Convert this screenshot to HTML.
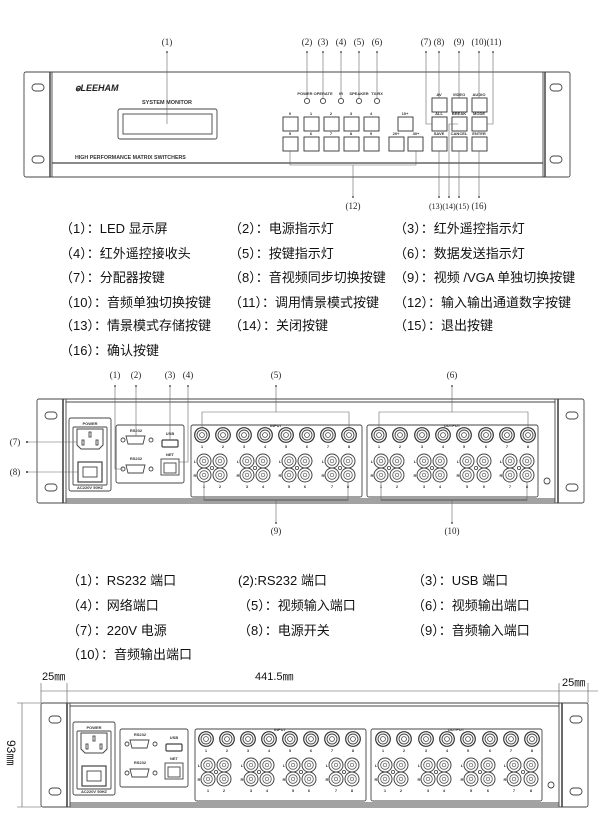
<!DOCTYPE html>
<html><head><meta charset="utf-8"><style>
html,body{margin:0;padding:0;background:#fff;}
svg{display:block;}
.t{font-family:"Liberation Sans","Noto Sans CJK SC",sans-serif;}
.cn{font-family:"Liberation Sans","Noto Sans CJK SC",sans-serif;font-size:13px;fill:#111;}
.lb{font-family:"Liberation Serif","Noto Sans CJK SC",serif;font-size:9px;fill:#222;}
.tiny{font-family:"Liberation Sans",sans-serif;font-size:4px;font-weight:bold;fill:#333;}
</style></head><body>
<svg width="600" height="825" viewBox="0 0 600 825" xmlns="http://www.w3.org/2000/svg">
<defs>
<g id="bnc"><circle r="7.3" fill="#fff" stroke="#333" stroke-width="1.2"/><circle r="5" fill="none" stroke="#444" stroke-width="0.9"/><circle r="2.4" fill="none" stroke="#444" stroke-width="0.8"/></g>
<g id="rca"><circle r="7" fill="#fff" stroke="#444" stroke-width="1"/><circle r="4.3" fill="none" stroke="#555" stroke-width="0.8"/><circle r="1.8" fill="none" stroke="#555" stroke-width="0.7"/></g>
<g id="back" fill="none" stroke="#444" stroke-width="0.9">
 <rect x="37" y="399" width="547" height="104" rx="2"/>
 <line x1="63" y1="399" x2="63" y2="503" stroke-width="1.6"/><line x1="66" y1="399" x2="66" y2="503"/>
 <line x1="555" y1="399" x2="555" y2="503"/><line x1="558" y1="399" x2="558" y2="503" stroke-width="1.6"/>
 <line x1="66" y1="402" x2="555" y2="402"/>
 <line x1="66" y1="499" x2="555" y2="499"/><line x1="66" y1="501" x2="555" y2="501"/>
 <rect x="45" y="412" width="12" height="7" rx="3.5"/><rect x="45" y="484" width="12" height="7" rx="3.5"/>
 <rect x="566" y="412" width="12" height="7" rx="3.5"/><rect x="566" y="484" width="12" height="7" rx="3.5"/>
 <rect x="69" y="418" width="42" height="73" rx="2"/>
 <rect x="73" y="427" width="34" height="58" rx="1"/>
 <path d="M77 429 H103 V445 L99 449 H81 L77 445 Z" stroke-width="1"/>
 <rect x="89" y="432" width="2" height="5"/><rect x="82" y="440" width="2" height="5"/><rect x="96" y="440" width="2" height="5"/>
 <rect x="78" y="462" width="24" height="20" stroke-width="1.2"/><rect x="83" y="467" width="14" height="10"/>
 <rect x="116" y="425" width="68" height="58" rx="2"/>
 <path d="M126 436 H145 L143 444 H128 Z"/><circle cx="123" cy="440" r="2"/><circle cx="151" cy="440" r="2"/>
 <path d="M126 465 H145 L143 473 H128 Z"/><circle cx="123" cy="469" r="2"/><circle cx="151" cy="469" r="2"/>
 <rect x="162" y="440" width="16" height="7" rx="1" stroke-width="1.2"/>
 <rect x="161" y="459" width="18" height="16"/><rect x="164" y="463" width="12" height="10"/>
 <rect x="191" y="425" width="171" height="72" rx="2"/>
 <rect x="367" y="425" width="171" height="72" rx="2"/>
 <circle cx="547" cy="481" r="3"/>
</g>
<g id="backfill">
 <g class="tiny"><text x="90" y="425" text-anchor="middle">POWER</text><text x="90" y="489" text-anchor="middle">AC220V 50HZ</text>
 <text x="136" y="432" text-anchor="middle">RS232</text><text x="136" y="460" text-anchor="middle">RS232</text>
 <text x="170" y="435" text-anchor="middle">USB</text><text x="170" y="456" text-anchor="middle">NET</text>
 <text x="276" y="427" text-anchor="middle">INPUT</text><text x="452" y="427" text-anchor="middle">OUTPUT</text></g>
</g>
</defs>

<!-- FRONT PANEL -->
<g fill="none" stroke="#444" stroke-width="0.9">
 <rect x="24" y="72" width="546" height="105" rx="2"/>
 <line x1="50" y1="72" x2="50" y2="177" stroke-width="1.5"/><line x1="52" y1="72" x2="52" y2="177"/>
 <line x1="543" y1="72" x2="543" y2="177"/><line x1="545" y1="72" x2="545" y2="177" stroke-width="1.5"/>
 <line x1="52" y1="163" x2="543" y2="163" stroke-width="1.3"/>
 <rect x="32" y="84" width="12" height="7" rx="3.5"/><rect x="32" y="156" width="12" height="7" rx="3.5"/>
 <rect x="550" y="84" width="12" height="7" rx="3.5"/><rect x="550" y="156" width="12" height="7" rx="3.5"/>
 <rect x="118" y="109" width="99" height="30" rx="2"/><rect x="123" y="114" width="89" height="20"/>
 <g stroke-width="1">
 <rect x="283" y="117" width="15" height="14"/><rect x="304" y="117" width="15" height="14"/><rect x="324" y="117" width="15" height="14"/><rect x="344" y="117" width="15" height="14"/><rect x="364" y="117" width="15" height="14"/>
 <rect x="283" y="137" width="15" height="14"/><rect x="304" y="137" width="15" height="14"/><rect x="324" y="137" width="15" height="14"/><rect x="344" y="137" width="15" height="14"/><rect x="364" y="137" width="15" height="14"/>
 <rect x="398" y="117" width="15" height="14"/><rect x="389" y="137" width="15" height="14"/><rect x="408" y="137" width="15" height="14"/>
 <rect x="432" y="98" width="15" height="14"/><rect x="452" y="98" width="15" height="14"/><rect x="472" y="98" width="15" height="14"/>
 <rect x="432" y="117" width="15" height="14"/><rect x="452" y="117" width="15" height="14"/><rect x="472" y="117" width="15" height="14"/>
 <rect x="432" y="137" width="15" height="14"/><rect x="452" y="137" width="15" height="14"/><rect x="472" y="137" width="15" height="14"/>
 </g>
 <circle cx="307" cy="101" r="2.6"/><circle cx="323" cy="101" r="2.6"/><circle cx="341" cy="101" r="2.6"/><circle cx="359" cy="101" r="2.6"/><circle cx="377" cy="101" r="2.6"/>
</g>
<g stroke="#666" stroke-width="0.6" fill="none">
 <line x1="167" y1="52" x2="167" y2="124"/>
 <line x1="307" y1="52" x2="307" y2="98"/><line x1="323" y1="52" x2="323" y2="98"/><line x1="341" y1="52" x2="341" y2="98"/><line x1="359" y1="52" x2="359" y2="98"/><line x1="377" y1="52" x2="377" y2="98"/>
 <polyline points="426,52 426,124 432,124"/><line x1="439" y1="52" x2="439" y2="98"/><line x1="459" y1="52" x2="459" y2="98"/><line x1="479" y1="52" x2="479" y2="98"/><polyline points="493,52 493,124 487,124"/>
 <polyline points="290,151 290,165 416,165 416,151"/><line x1="353" y1="165" x2="353" y2="197"/>
 <line x1="439" y1="151" x2="439" y2="197"/><polyline points="449,197 449,124 458,124"/><line x1="459" y1="151" x2="459" y2="197"/><line x1="479" y1="151" x2="479" y2="197"/>
</g>
<g fill="#333">
 <circle cx="167" cy="52" r="0.9"/><circle cx="307" cy="52" r="0.9"/><circle cx="323" cy="52" r="0.9"/><circle cx="341" cy="52" r="0.9"/><circle cx="359" cy="52" r="0.9"/><circle cx="377" cy="52" r="0.9"/>
 <circle cx="426" cy="52" r="0.9"/><circle cx="439" cy="52" r="0.9"/><circle cx="459" cy="52" r="0.9"/><circle cx="479" cy="52" r="0.9"/><circle cx="493" cy="52" r="0.9"/>
 <circle cx="353" cy="197" r="0.9"/><circle cx="439" cy="197" r="0.9"/><circle cx="449" cy="197" r="0.9"/><circle cx="459" cy="197" r="0.9"/><circle cx="479" cy="197" r="0.9"/>
</g>
<g class="lb" text-anchor="middle">
 <text x="167" y="45">(1)</text><text x="307" y="45">(2)</text><text x="323" y="45">(3)</text><text x="341" y="45">(4)</text><text x="359" y="45">(5)</text><text x="377" y="45">(6)</text>
 <text x="426" y="45">(7)</text><text x="439" y="45">(8)</text><text x="459" y="45">(9)</text><text x="479" y="45">(10)</text><text x="494" y="45">(11)</text>
 <text x="353" y="209">(12)</text><text x="449" y="209" font-size="8">(13)(14)(15)</text><text x="479" y="209">(16)</text>
</g>
<text x="75" y="91" class="t" font-size="9" font-weight="bold" font-style="italic" fill="#222">&#x2C7A;LEEHAM</text>
<text x="167" y="104" class="t" font-size="5.5" font-weight="bold" fill="#333" text-anchor="middle">SYSTEM MONITOR</text>
<text x="75" y="159" class="t" font-size="5.3" font-weight="bold" fill="#333">HIGH PERFORMANCE MATRIX SWITCHERS</text>
<g class="tiny" text-anchor="middle">
 <text x="315" y="95">POWER OPERATE</text><text x="341" y="95">IR</text><text x="359" y="95">SPEAKER</text><text x="377" y="95">TX/RX</text>
 <text x="290" y="115">0</text><text x="311" y="115">1</text><text x="331" y="115">2</text><text x="351" y="115">3</text><text x="371" y="115">4</text>
 <text x="290" y="135">5</text><text x="311" y="135">6</text><text x="331" y="135">7</text><text x="351" y="135">8</text><text x="371" y="135">9</text>
 <text x="405" y="115">10+</text><text x="396" y="135">20+</text><text x="416" y="135">30+</text>
 <text x="439" y="96">AV</text><text x="459" y="96">VIDEO</text><text x="479" y="96">AUDIO</text>
 <text x="439" y="115">ALL</text><text x="459" y="115">BREAK</text><text x="479" y="115">MODE</text>
 <text x="439" y="135">SAVE</text><text x="459" y="135">CANCEL</text><text x="479" y="135">ENTER</text>
</g>

<!-- LIST 1 -->
<g class="cn">
 <text x="60" y="233">（1）：LED 显示屏</text><text x="229" y="233">（2）：电源指示灯</text><text x="394" y="233">（3）：红外遥控指示灯</text>
 <text x="60" y="258">（4）：红外遥控接收头</text><text x="229" y="258">（5）：按键指示灯</text><text x="394" y="258">（6）：数据发送指示灯</text>
 <text x="60" y="282">（7）：分配器按键</text><text x="229" y="282">（8）：音视频同步切换按键</text><text x="394" y="282">（9）：视频 /VGA 单独切换按键</text>
 <text x="60" y="307">（10）：音频单独切换按键</text><text x="229" y="307">（11）：调用情景模式按键</text><text x="394" y="307">（12）：输入输出通道数字按键</text>
 <text x="60" y="330">（13）：情景模式存储按键</text><text x="229" y="330">（14）：关闭按键</text><text x="394" y="330">（15）：退出按键</text>
 <text x="60" y="355">（16）：确认按键</text>
</g>

<!-- BACK PANEL -->
<use href="#back"/>
<use href="#backfill"/>
<g id="conn">
 <use href="#bnc" x="202" y="435"/><use href="#bnc" x="223" y="435"/><use href="#bnc" x="244" y="435"/><use href="#bnc" x="265" y="435"/><use href="#bnc" x="286" y="435"/><use href="#bnc" x="307" y="435"/><use href="#bnc" x="328" y="435"/><use href="#bnc" x="349" y="435"/>
 <use href="#bnc" x="379" y="435"/><use href="#bnc" x="400" y="435"/><use href="#bnc" x="422" y="435"/><use href="#bnc" x="443" y="435"/><use href="#bnc" x="464" y="435"/><use href="#bnc" x="486" y="435"/><use href="#bnc" x="507" y="435"/><use href="#bnc" x="528" y="435"/>
 <use href="#rca" x="204" y="461"/><use href="#rca" x="220" y="461"/><use href="#rca" x="204" y="475"/><use href="#rca" x="220" y="475"/>
 <use href="#rca" x="247" y="461"/><use href="#rca" x="263" y="461"/><use href="#rca" x="247" y="475"/><use href="#rca" x="263" y="475"/>
 <use href="#rca" x="289" y="461"/><use href="#rca" x="305" y="461"/><use href="#rca" x="289" y="475"/><use href="#rca" x="305" y="475"/>
 <use href="#rca" x="332" y="461"/><use href="#rca" x="348" y="461"/><use href="#rca" x="332" y="475"/><use href="#rca" x="348" y="475"/>
 <use href="#rca" x="381" y="461"/><use href="#rca" x="397" y="461"/><use href="#rca" x="381" y="475"/><use href="#rca" x="397" y="475"/>
 <use href="#rca" x="424" y="461"/><use href="#rca" x="440" y="461"/><use href="#rca" x="424" y="475"/><use href="#rca" x="440" y="475"/>
 <use href="#rca" x="467" y="461"/><use href="#rca" x="484" y="461"/><use href="#rca" x="467" y="475"/><use href="#rca" x="484" y="475"/>
 <use href="#rca" x="510" y="461"/><use href="#rca" x="527" y="461"/><use href="#rca" x="510" y="475"/><use href="#rca" x="527" y="475"/>
 <g fill="none" stroke="#444" stroke-width="0.8"><circle cx="212" cy="468" r="1.6"/><circle cx="255" cy="468" r="1.6"/><circle cx="297" cy="468" r="1.6"/><circle cx="340" cy="468" r="1.6"/><circle cx="389" cy="468" r="1.6"/><circle cx="432" cy="468" r="1.6"/><circle cx="476" cy="468" r="1.6"/><circle cx="519" cy="468" r="1.6"/></g>
 <g class="tiny" text-anchor="middle">
  <text x="202" y="448">1</text><text x="223" y="448">2</text><text x="244" y="448">3</text><text x="265" y="448">4</text><text x="286" y="448">5</text><text x="307" y="448">6</text><text x="328" y="448">7</text><text x="349" y="448">8</text>
  <text x="379" y="448">1</text><text x="400" y="448">2</text><text x="422" y="448">3</text><text x="443" y="448">4</text><text x="464" y="448">5</text><text x="486" y="448">6</text><text x="507" y="448">7</text><text x="528" y="448">8</text>
  <text x="204" y="488">1</text><text x="220" y="488">2</text><text x="247" y="488">3</text><text x="263" y="488">4</text><text x="289" y="488">5</text><text x="305" y="488">6</text><text x="332" y="488">7</text><text x="348" y="488">8</text>
  <text x="381" y="488">1</text><text x="397" y="488">2</text><text x="424" y="488">3</text><text x="440" y="488">4</text><text x="467" y="488">5</text><text x="484" y="488">6</text><text x="510" y="488">7</text><text x="527" y="488">8</text>
  <text x="195" y="463">L</text><text x="195" y="477">R</text><text x="238" y="463">L</text><text x="238" y="477">R</text><text x="280" y="463">L</text><text x="280" y="477">R</text><text x="323" y="463">L</text><text x="323" y="477">R</text>
  <text x="372" y="463">L</text><text x="372" y="477">R</text><text x="415" y="463">L</text><text x="415" y="477">R</text><text x="458" y="463">L</text><text x="458" y="477">R</text><text x="501" y="463">L</text><text x="501" y="477">R</text>
 </g>
</g>
<g stroke="#666" stroke-width="0.6" fill="none">
 <line x1="27" y1="442" x2="77" y2="442"/><line x1="27" y1="472" x2="78" y2="472"/>
 <polyline points="115,386 115,469 123,469"/><line x1="136" y1="386" x2="136" y2="436"/><line x1="170" y1="386" x2="170" y2="440"/><polyline points="188,386 188,462 179,462"/>
 <polyline points="202,428 202,412 349,412 349,428"/><line x1="276" y1="386" x2="276" y2="412"/>
 <polyline points="379,428 379,412 528,412 528,428"/><line x1="452" y1="386" x2="452" y2="412"/>
 <polyline points="204,482 204,500 348,500 348,482"/><line x1="276" y1="500" x2="276" y2="523"/>
 <polyline points="381,482 381,500 527,500 527,482"/><line x1="452" y1="500" x2="452" y2="523"/>
</g>
<g fill="#333">
 <circle cx="27" cy="442" r="1"/><circle cx="27" cy="472" r="1"/><circle cx="115" cy="386" r="0.9"/><circle cx="136" cy="386" r="0.9"/><circle cx="170" cy="386" r="0.9"/><circle cx="188" cy="386" r="0.9"/>
 <circle cx="276" cy="386" r="0.9"/><circle cx="452" cy="386" r="0.9"/><circle cx="276" cy="523" r="0.9"/><circle cx="452" cy="523" r="0.9"/>
</g>
<g class="lb" text-anchor="middle">
 <text x="15" y="445">(7)</text><text x="15" y="475">(8)</text>
 <text x="115" y="378">(1)</text><text x="136" y="378">(2)</text><text x="170" y="378">(3)</text><text x="188" y="378">(4)</text>
 <text x="276" y="378">(5)</text><text x="452" y="378">(6)</text><text x="276" y="534">(9)</text><text x="452" y="534">(10)</text>
</g>

<!-- LIST 2 -->
<g class="cn">
 <text x="67" y="585">（1）：RS232 端口</text><text x="238" y="585">(2):RS232 端口</text><text x="412" y="585">（3）：USB 端口</text>
 <text x="67" y="610">（4）：网络端口</text><text x="238" y="610">（5）：视频输入端口</text><text x="412" y="610">（6）：视频输出端口</text>
 <text x="67" y="635">（7）：220V 电源</text><text x="238" y="635">（8）：电源开关</text><text x="412" y="635">（9）：音频输入端口</text>
 <text x="67" y="659">（10）：音频输出端口</text>
</g>

<!-- BOTTOM DIMENSIONED VIEW -->
<g transform="translate(4,304)">
 <use href="#back"/><use href="#backfill"/><use href="#conn"/>
</g>
<g stroke="#555" stroke-width="0.6" fill="none">
 <line x1="41" y1="691" x2="598" y2="691"/>
 <line x1="41" y1="683" x2="41" y2="703"/><line x1="67" y1="683" x2="67" y2="703"/><line x1="559" y1="683" x2="559" y2="703"/><line x1="588" y1="683" x2="588" y2="703"/>
 <line x1="22" y1="703" x2="22" y2="807"/><line x1="17" y1="703" x2="41" y2="703"/><line x1="17" y1="807" x2="41" y2="807"/>
</g>
<g class="t" font-size="11" fill="#111">
 <text x="42" y="680">25㎜</text><text x="255" y="680">441.5㎜</text><text x="562" y="686">25㎜</text>
 <text transform="translate(7,740) rotate(90)" font-size="12">93㎜</text>
</g>
</svg>
</body></html>
